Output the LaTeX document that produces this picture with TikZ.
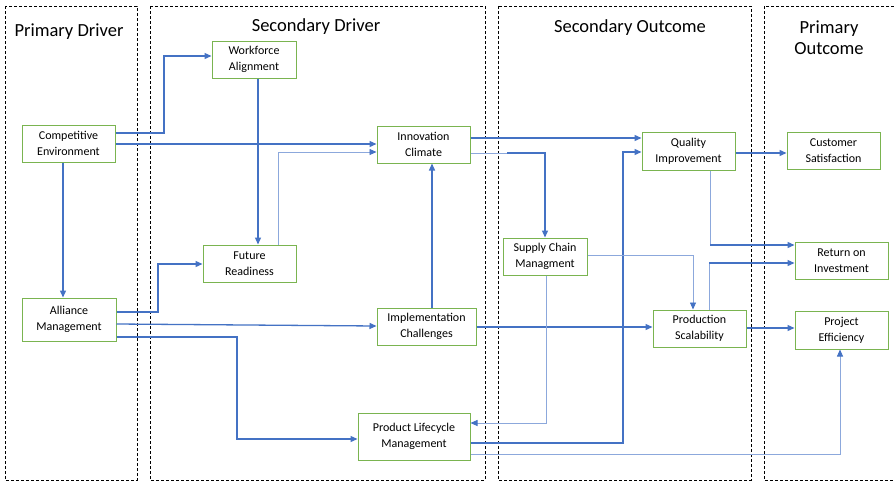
\documentclass[tikz,border=0pt]{standalone}
\usepackage{fontspec}
\setmainfont{Carlito}
\usetikzlibrary{arrows.meta,calc}
\definecolor{linkblue}{RGB}{68,114,196}
\definecolor{lightlink}{RGB}{140,168,220}
\definecolor{boxgreen}{RGB}{122,180,80}

\begin{document}
\begin{tikzpicture}[x=1pt,y=-1pt,
  frame/.style={draw=black, line width=1pt, dash pattern=on 3pt off 2pt},
  coltitle/.style={font=\fontsize{18.5}{21}\selectfont, align=center, inner sep=0pt},
  box/.style={draw=boxgreen, fill=white, line width=1pt, align=center, inner sep=0pt,
              font=\fontsize{12}{16}\selectfont},
  conn/.style={draw=linkblue, line width=1.3pt, -{Triangle[length=7pt,width=6pt]}},
  thinconn/.style={draw=lightlink, line width=0.8pt, -{Triangle[length=7pt,width=6pt,color=linkblue]}},
  thinseg/.style={draw=lightlink, line width=0.8pt}]

\fill[white] (0,0) rectangle (894,482);
\clip (0,0) rectangle (894,482);

% column frames
\draw[frame] (5,6) rectangle (137,480);
\draw[frame] (150,6) rectangle (485,480);
\draw[frame] (498,6) rectangle (751,480);
\draw[frame] (764,6) rectangle (910,480);

% column titles
\node[coltitle] (t1) at (69,32) {Primary Driver};
\node[coltitle] (t2) at (316,27) {Secondary Driver};
\node[coltitle] (t3) at (630,28) {Secondary Outcome};
\node[coltitle] (t4) at (829,38) {Primary\\Outcome};

% boxes
\node[box, minimum width=93pt, minimum height=37pt] (ce)  at (68.5,143.5) {Competitive\\Environment};
\node[box, minimum width=94pt, minimum height=43pt] (am)  at (69,319.5)   {Alliance\\Management};
\node[box, minimum width=84pt, minimum height=37pt] (wf)  at (254,59.5)   {Workforce\\Alignment};
\node[box, minimum width=93pt, minimum height=37pt] (fr)  at (249.5,263.5) {Future\\Readiness};
\node[box, minimum width=93pt, minimum height=37pt] (ic)  at (423.5,144.5) {Innovation\\Climate};
\node[box, minimum width=99pt, minimum height=37pt] (ich) at (426.5,326.5) {Implementation\\Challenges};
\node[box, minimum width=112pt, minimum height=47pt] (plm) at (414,436.5) {Product Lifecycle\\Management};
\node[box, minimum width=84pt, minimum height=37pt] (scm) at (545,256.5)  {Supply Chain\\Managment};
\node[box, minimum width=93pt, minimum height=38pt] (qi)  at (688.5,151)  {Quality\\Improvement};
\node[box, minimum width=93pt, minimum height=37pt] (ps)  at (699.5,328.5) {Production\\Scalability};
\node[box, minimum width=93pt, minimum height=37pt] (cs)  at (833.5,150.5) {Customer\\Satisfaction};
\node[box, minimum width=93pt, minimum height=37pt] (roi) at (841.5,260.5) {Return on\\Investment};
\node[box, minimum width=93pt, minimum height=38pt] (pe)  at (841.5,330)  {Project\\Efficiency};

% primary driver links
\draw[conn] (ce.east |- 0,133) -- (164,133) -- (164,56) -- (wf.west |- 0,56);
\draw[conn] (ce.east |- 0,144) -- (ic.west |- 0,144);
\draw[conn] (ce.south -| 63,0) -- (am.north -| 63,0);
\draw[conn] (am.east |- 0,312) -- (158,312) -- (158,264) -- (fr.west |- 0,264);
\draw[conn] (am.east |- 0,324) -- (ich.west |- 0,326);
\draw[conn] (am.east |- 0,337) -- (237,337) -- (237,439) -- (plm.west |- 0,439);

% secondary driver links
\draw[conn] (wf.south -| 258,0) -- (fr.north -| 258,0);
\draw[thinconn] (fr.north -| 278,0) -- (278,152) -- (ic.west |- 0,152);
\draw[conn] (ich.north -| 432,0) -- (ic.south -| 432,0);
\draw[conn] (ic.east |- 0,138) -- (qi.west |- 0,138);
\draw[thinseg] (ic.east |- 0,153) -- (507,153);
\draw[conn] (507,153) -- (545,153) -- (scm.north -| 545,0);
\draw[conn] (ich.east |- 0,327) -- (ps.west |- 0,327);
\draw[conn] (plm.east |- 0,443) -- (623,443) -- (623,152) -- (qi.west |- 0,152);
\draw[thinconn] (plm.east |- 0,454) -- (840,454) -- (pe.south -| 840,0);

% secondary outcome links
\draw[thinconn] (scm.east |- 0,255) -- (693,255) -- (ps.north -| 693,0);
\draw[thinconn] (scm.south -| 546,0) -- (546,423) -- (plm.east |- 0,423);
\draw[conn] (qi.east |- 0,153) -- (cs.west |- 0,153);
\draw[thinseg] (qi.south -| 710,0) -- (710,245);
\draw[conn] (710,245) -- (roi.west |- 0,245);
\draw[thinseg] (ps.north -| 709,0) -- (709,263);
\draw[conn] (709,263) -- (roi.west |- 0,263);
\draw[conn] (ps.east |- 0,328) -- (pe.west |- 0,328);

\end{tikzpicture}
\end{document}
